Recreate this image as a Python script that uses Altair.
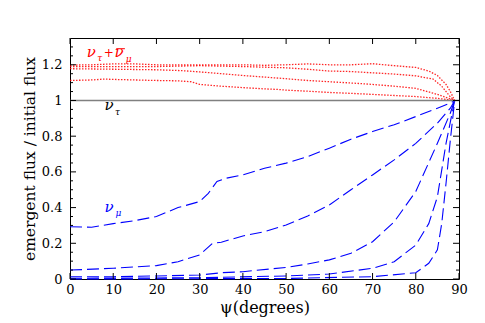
import altair as alt
import pandas as pd

# ---------------- data ----------------
# blue dashed curves: nu_mu
b1_x = [0, 5, 10, 15, 20, 25, 30, 32, 34, 36, 40, 45, 50, 55, 60, 65, 70, 75, 80, 85, 88, 89]
b1_y = [0.293, 0.29, 0.31, 0.327, 0.35, 0.40, 0.434, 0.48, 0.546, 0.564, 0.583, 0.62, 0.649,
        0.686, 0.733, 0.783, 0.826, 0.864, 0.91, 0.957, 0.985, 1.0]
b2_x = [0, 10, 20, 25, 30, 33, 35, 40, 45, 50, 55, 60, 65, 70, 75, 80, 85, 88, 89]
b2_y = [0.05, 0.06, 0.075, 0.097, 0.135, 0.20, 0.206, 0.241, 0.265, 0.303, 0.353, 0.415,
        0.50, 0.583, 0.667, 0.76, 0.873, 0.957, 1.0]
b3_x = [0, 10, 20, 30, 35, 40, 50, 55, 60, 65, 70, 75, 80, 85, 88, 89]
b3_y = [0.013, 0.013, 0.017, 0.022, 0.035, 0.041, 0.065, 0.084, 0.107, 0.144, 0.209, 0.32,
        0.49, 0.76, 0.93, 1.0]
b4_x = [0, 30, 50, 60, 70, 75, 80, 83, 85, 87, 89]
b4_y = [0.004, 0.007, 0.017, 0.028, 0.06, 0.097, 0.19, 0.31, 0.46, 0.76, 1.0]
b5_x = [0, 50, 70, 80, 83, 85, 86, 87, 88, 89]
b5_y = [0.0, 0.003, 0.013, 0.035, 0.088, 0.163, 0.31, 0.536, 0.78, 1.0]

# red dotted curves: nu_tau + nubar_mu
r1_x = [0, 5, 10, 15, 20, 25, 30, 35, 40, 45, 50, 55, 60, 65, 70, 75, 80, 83, 85, 87, 88, 89]
r1_y = [1.198, 1.20, 1.205, 1.205, 1.20, 1.20, 1.20, 1.20, 1.20, 1.197, 1.20, 1.205, 1.20,
        1.20, 1.206, 1.195, 1.185, 1.165, 1.14, 1.09, 1.05, 1.0]
r2_x = [0, 10, 20, 30, 40, 50, 55, 60, 65, 70, 75, 80, 84, 86, 88, 89]
r2_y = [1.19, 1.19, 1.19, 1.195, 1.19, 1.183, 1.175, 1.165, 1.162, 1.155, 1.148, 1.138,
        1.12, 1.08, 1.02, 1.0]
r3_x = [0, 10, 20, 26, 30, 35, 40, 45, 50, 55, 60, 65, 70, 75, 80, 85, 88, 89]
r3_y = [1.178, 1.175, 1.172, 1.167, 1.16, 1.15, 1.14, 1.131, 1.122, 1.112, 1.105, 1.098,
        1.09, 1.08, 1.068, 1.034, 1.008, 1.0]
r4_x = [0, 5, 8, 10, 15, 20, 25, 28, 30, 35, 40, 45, 48, 50, 55, 60, 65, 70, 75, 80, 85, 88, 89]
r4_y = [1.112, 1.115, 1.12, 1.118, 1.115, 1.112, 1.11, 1.105, 1.09, 1.08, 1.072, 1.065,
        1.062, 1.058, 1.052, 1.045, 1.04, 1.034, 1.028, 1.022, 1.012, 1.003, 1.0]

x_major = [0, 10, 20, 30, 40, 50, 60, 70, 80, 90]
y_major = [0, 0.2, 0.4, 0.6, 0.8, 1.0, 1.2]
y_minor = [0.05, 0.1, 0.15, 0.25, 0.3, 0.35, 0.45, 0.5, 0.55, 0.65, 0.7, 0.75,
           0.85, 0.9, 0.95, 1.05, 1.1, 1.15, 1.25, 1.3]

# ---------------- build tables ----------------
def long(curves):
    rows = []
    for name, xs_, ys_ in curves:
        for a, b in zip(xs_, ys_):
            rows.append({"series": name, "psi": a, "flux": b})
    return pd.DataFrame(rows)

blue = long([("b1", b1_x, b1_y), ("b2", b2_x, b2_y), ("b3", b3_x, b3_y),
             ("b4", b4_x, b4_y), ("b5", b5_x, b5_y)])
red = long([("r1", r1_x, r1_y), ("r2", r2_x, r2_y), ("r3", r3_x, r3_y), ("r4", r4_x, r4_y)])

W, H = 389, 241
FONT = "DejaVu Serif"

xs = alt.Scale(domain=[0, 90], nice=False, zero=False)
ys = alt.Scale(domain=[0, 1.35], nice=False, zero=False)

x_axis = alt.Axis(values=x_major, title="ψ(degrees)", labelFlush=False, labelPadding=4,
                  titlePadding=3, titleFontSize=16)
y_axis = alt.Axis(values=y_major, format="~f", title="emergent flux / initial flux",
                  labelPadding=8, titlePadding=4, titleFontSize=15.5)

XQ = lambda f: alt.X(f, scale=xs, axis=x_axis)
YQ = lambda f: alt.Y(f, scale=ys, axis=y_axis)

unity = alt.Chart(pd.DataFrame({"v": [1.0]})).mark_rule(color="#808080", strokeWidth=1.5).encode(
    y=YQ("v:Q"))

red_lines = alt.Chart(red).mark_line(color="#ff0000", strokeDash=[1.5, 1.5], strokeWidth=1.3,
                                     opacity=0.85).encode(
    x=XQ("psi:Q"), y=YQ("flux:Q"), detail="series:N")

blue_lines = alt.Chart(blue).mark_line(color="#0000ff", strokeDash=[12, 5], strokeWidth=1.1).encode(
    x=XQ("psi:Q"), y=YQ("flux:Q"), detail="series:N")

xt = pd.DataFrame({"v": x_major})
ymaj = pd.DataFrame({"v": y_major})
ymin = pd.DataFrame({"v": y_minor})

def xticks(y0, y1):
    return alt.Chart(xt).mark_rule(color="black", strokeWidth=1).encode(
        x=XQ("v:Q"), y=alt.value(y0), y2=alt.value(y1))

def yticks(df, x0, x1):
    return alt.Chart(df).mark_rule(color="black", strokeWidth=1).encode(
        y=YQ("v:Q"), x=alt.value(x0), x2=alt.value(x1))

ticks = [xticks(H, H - 6), xticks(0, 6),
         yticks(ymaj, 0, 6), yticks(ymaj, W - 6, W),
         yticks(ymin, 0, 3), yticks(ymin, W - 3, W)]

def txt(s, x, y, color, size, italic=True):
    return alt.Chart(pd.DataFrame({"px": [x], "py": [y]})).mark_text(
        text=s, color=color, fontSize=size, font=FONT,
        fontStyle="italic" if italic else "normal", align="left", baseline="alphabetic").encode(
        x=XQ("px:Q"), y=YQ("py:Q"))

labels = [
    txt("ν", 3.9, 1.245, "#ff0000", 15),
    txt("τ", 6.3, 1.222, "#ff0000", 9),
    txt("+", 7.8, 1.245, "#ff0000", 12, italic=False),
    txt("ν", 10.3, 1.245, "#ff0000", 15),
    txt("μ", 12.9, 1.213, "#ff0000", 9),
    txt("ν", 8.0, 0.945, "black", 15),
    txt("τ", 10.4, 0.92, "black", 9),
    txt("ν", 8.0, 0.375, "#0000ff", 15),
    txt("μ", 10.5, 0.352, "#0000ff", 9),
]

overbar = alt.Chart(pd.DataFrame({"a": [10.7], "b": [12.7], "c": [1.29]})).mark_rule(
    color="#ff0000", strokeWidth=1).encode(
    x=XQ("a:Q"), x2="b:Q", y=YQ("c:Q"))

chart = alt.layer(red_lines, blue_lines, unity, *ticks, *labels, overbar).properties(
    width=W, height=H,
    padding={"left": 62, "top": 30, "right": 18, "bottom": 44},
    autosize=alt.AutoSizeParams(type="none"),
).configure_view(stroke="black", strokeWidth=1).configure_axis(
    grid=False, ticks=False, domain=False,
    labelFont=FONT, labelFontSize=13, labelColor="black",
    titleFont=FONT, titleFontWeight="normal", titleColor="black",
)

chart.save("out.html", embed_options={"renderer": "svg", "actions": False})
